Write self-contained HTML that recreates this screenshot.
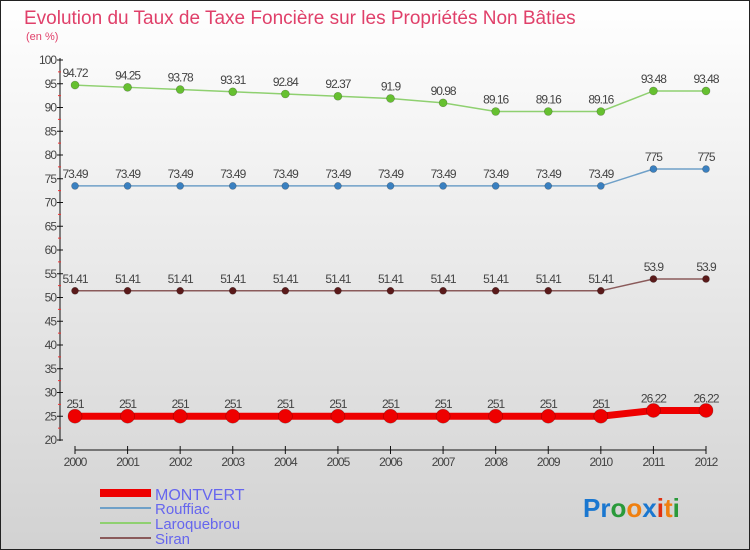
<!DOCTYPE html>
<html><head><meta charset="utf-8"><style>
body{margin:0}
#wrap{width:750px;height:550px;position:relative;overflow:hidden;font-family:"Liberation Sans",sans-serif}
svg text{font-family:"Liberation Sans",sans-serif}
</style></head><body>
<div id="wrap">
<svg id="c" width="750" height="550" xmlns="http://www.w3.org/2000/svg">
<defs><linearGradient id="bg" x1="0" y1="0" x2="0" y2="1"><stop offset="0" stop-color="#ffffff"/><stop offset="1" stop-color="#d2d2d2"/></linearGradient></defs>
<rect x="0.5" y="0.5" width="749" height="549" fill="url(#bg)" stroke="#222"/>
<text x="24" y="24" font-size="19" fill="#e0406a">Evolution du Taux de Taxe Foncière sur les Propriétés Non Bâties</text>
<text x="26" y="40" font-size="11" fill="#e0406a">(en %)</text>
<g id="axes"></g><g id="series"></g>
<g>
<rect x="100" y="489" width="51" height="8" fill="#ee0000"/>
<text x="155" y="500" font-size="16" fill="#6666ee">MONTVERT</text>
<line x1="100" y1="508" x2="151" y2="508" stroke="#6fa0c8" stroke-width="2"/>
<text x="155" y="514" font-size="15" fill="#6666ee">Rouffiac</text>
<line x1="100" y1="523" x2="151" y2="523" stroke="#8fd070" stroke-width="2"/>
<text x="155" y="529" font-size="15" fill="#6666ee">Laroquebrou</text>
<line x1="100" y1="538" x2="151" y2="538" stroke="#8a5a5a" stroke-width="2"/>
<text x="155" y="544" font-size="15" fill="#6666ee">Siran</text>
</g>
<g font-size="26" font-weight="bold">
<text x="583" y="517"><tspan fill="#1a77d0">Pr</tspan><tspan fill="#2a9a3a">o</tspan><tspan fill="#f08010">o</tspan><tspan fill="#1a77d0">x</tspan><tspan fill="#e03010">i</tspan><tspan fill="#f08010">t</tspan><tspan fill="#2a9a3a">i</tspan></text>
</g>
</svg></div>
<script>
const years=["2000","2001","2002","2003","2004","2005","2006","2007","2008","2009","2010","2011","2012"];
const montvert=[25.01,25.01,25.01,25.01,25.01,25.01,25.01,25.01,25.01,25.01,25.01,26.22,26.22];
const rouffiac=[73.49,73.49,73.49,73.49,73.49,73.49,73.49,73.49,73.49,73.49,73.49,77.05,77.05];
const laroquebrou=[94.72,94.25,93.78,93.31,92.84,92.37,91.9,90.98,89.16,89.16,89.16,93.48,93.48];
const siran=[51.41,51.41,51.41,51.41,51.41,51.41,51.41,51.41,51.41,51.41,51.41,53.9,53.9];
const yTicks=[20,25,30,35,40,45,50,55,60,65,70,75,80,85,90,95,100];
const NS="http://www.w3.org/2000/svg";
const xs=i=>75+i*(706-75)/(years.length-1);
const ys=v=>440-(v-20)*(380/80);
function mk(t,a,p){const e=document.createElementNS(NS,t);for(const k in a)e.setAttribute(k,a[k]);p.appendChild(e);return e;}
const ax=document.getElementById('axes');
const yl=mk('line',{x1:60,y1:58,x2:60,y2:441,stroke:'#111'},ax);


yTicks.forEach(v=>{
 mk('line',{x1:57,y1:ys(v),x2:63,y2:ys(v),stroke:'#111'},ax);
 if(v<100) mk('line',{x1:58,y1:ys(v+2.5),x2:61,y2:ys(v+2.5),stroke:'#e33'},ax);
 const t=mk('text',{x:56,y:ys(v)+4,'font-size':12,'text-anchor':'end',fill:'#444','letter-spacing':'-1'},ax);
 t.textContent=v;
 
 
});
const xl=mk('line',{x1:75,y1:450,x2:706,y2:450,stroke:'#111'},ax);


years.forEach((y,i)=>{
 mk('line',{x1:xs(i),y1:446,x2:xs(i),y2:454,stroke:'#111'},ax);
 const t=mk('text',{x:xs(i),y:466,'font-size':12,'text-anchor':'middle',fill:'#444','letter-spacing':'-1'},ax);
 t.textContent=y;
 
 
});
const sg=document.getElementById('series');
function draw(data,name,color,lw,r,dot){
 const g=mk('g',{},sg);
 
 
 mk('polyline',{points:data.map((v,i)=>xs(i)+','+ys(v)).join(' '),fill:'none',stroke:color,'stroke-width':lw},g);
 data.forEach((v,i)=>{
  const c=mk('circle',{cx:xs(i),cy:ys(v),r:r,fill:dot,stroke:'rgba(0,0,0,0.3)','stroke-width':0.6},g);
  
  
  const t=mk('text',{x:xs(i),y:ys(v)-8,'font-size':12,'text-anchor':'middle',fill:'#444','letter-spacing':'-1'},g);
  t.textContent=String(v).replace('.0','');
  
  
 });
}
draw(laroquebrou,'laroquebrou','#8fd070',1.5,4,'#66c030');
draw(rouffiac,'rouffiac','#6fa0c8',1.5,3.5,'#3a80c0');
draw(siran,'siran','#8a5a5a',1.5,3.5,'#5a1a1a');
draw(montvert,'montvert','#ee0000',7,7,'#ee0000');
</script>
</body></html>
